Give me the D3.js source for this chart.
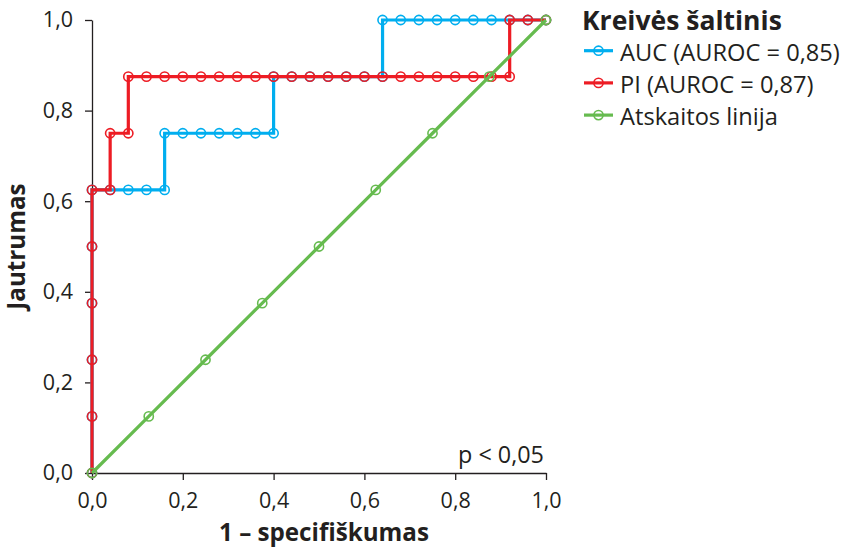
<!DOCTYPE html>
<html>
<head>
<meta charset="utf-8">
<script src="https://cdn.jsdelivr.net/npm/d3@7"></script>
<style>
  body { margin: 0; background: #fff; }
  svg { display: block; font-family: "Open Sans", "Lato", sans-serif; }
</style>
</head>
<body>
<svg id="chart" width="845" height="550"></svg>
<script>
// ROC curve coordinates: [1 - specificity, sensitivity]
const aucPoints = [
  [0, 0], [0, 0.125], [0, 0.25], [0, 0.375], [0, 0.5], [0, 0.625],
  [0.04, 0.625], [0.08, 0.625], [0.12, 0.625], [0.16, 0.625],
  [0.16, 0.75], [0.20, 0.75], [0.24, 0.75], [0.28, 0.75], [0.32, 0.75], [0.36, 0.75], [0.40, 0.75],
  [0.40, 0.875], [0.44, 0.875], [0.48, 0.875], [0.52, 0.875], [0.56, 0.875], [0.60, 0.875], [0.64, 0.875],
  [0.64, 1], [0.68, 1], [0.72, 1], [0.76, 1], [0.80, 1], [0.84, 1], [0.88, 1], [0.92, 1], [0.96, 1], [1, 1]
];
const piPoints = [
  [0, 0], [0, 0.125], [0, 0.25], [0, 0.375], [0, 0.5], [0, 0.625],
  [0.04, 0.625], [0.04, 0.75], [0.08, 0.75], [0.08, 0.875],
  [0.12, 0.875], [0.16, 0.875], [0.20, 0.875], [0.24, 0.875], [0.28, 0.875], [0.32, 0.875],
  [0.36, 0.875], [0.40, 0.875], [0.44, 0.875], [0.48, 0.875], [0.52, 0.875], [0.56, 0.875],
  [0.60, 0.875], [0.64, 0.875], [0.68, 0.875], [0.72, 0.875], [0.76, 0.875], [0.80, 0.875],
  [0.84, 0.875], [0.88, 0.875], [0.92, 0.875],
  [0.92, 1], [0.96, 1], [1, 1]
];
const refPoints = [
  [0, 0], [0.125, 0.125], [0.25, 0.25], [0.375, 0.375], [0.5, 0.5],
  [0.625, 0.625], [0.75, 0.75], [0.875, 0.875], [1, 1]
];
const tickValues = [0, 0.2, 0.4, 0.6, 0.8, 1.0];
const seriesNames = ["AUC (AUROC = 0,85)", "PI (AUROC = 0,87)", "Atskaitos linija"];
const seriesColors = ["#00aeef", "#ed1c24", "#66bb4f"];
const legendTitle = "Kreivės šaltinis";
const xTitle = "1 – specifiškumas";
const yTitle = "Jautrumas";
const pNote = "p < 0,05";

const ink = "#231f20";
const svg = d3.select("#chart");
const x = d3.scaleLinear().domain([0, 1]).range([92, 546]);
const y = d3.scaleLinear().domain([0, 1]).range([473, 20]);
const fmt = d => d3.format(".1f")(d).replace(".", ",");

// Scale a text's font size so that it spans the given width
function fitWidth(sel, width) {
  const fs = parseFloat(sel.attr("font-size"));
  const w = sel.node().getComputedTextLength();
  const size = fs * width / w;
  sel.attr("font-size", size);
  return size;
}

// Axes
const xAxis = svg.append("g").attr("transform", `translate(0,${y(0)})`)
  .call(d3.axisBottom(x).tickValues(tickValues).tickFormat(fmt).tickSize(7).tickPadding(8).tickSizeOuter(0));
const yAxis = svg.append("g").attr("transform", `translate(${x(0)},0)`)
  .call(d3.axisLeft(y).tickValues(tickValues).tickFormat(fmt).tickSize(7).tickPadding(12).tickSizeOuter(0));
[xAxis, yAxis].forEach(g => {
  g.selectAll("path, line").attr("stroke", ink).attr("stroke-width", 1.3);
  g.selectAll("text").attr("font-size", 21.5).attr("fill", ink).attr("font-family", "'Open Sans', sans-serif");
});
xAxis.selectAll("text").attr("dy", "0.95em");

// Axis titles
const xt = svg.append("text").attr("x", 324).attr("y", 541).attr("text-anchor", "middle")
  .attr("font-size", 24).attr("font-weight", "bold").attr("fill", ink).text(xTitle);
const titleSize = fitWidth(xt, 210);
svg.append("text").attr("transform", `translate(25,${y(0.5)}) rotate(-90)`).attr("text-anchor", "middle")
  .attr("font-size", titleSize).attr("font-weight", "bold").attr("fill", ink).text(yTitle);

const pt = svg.append("text").attr("x", 544).attr("y", 463).attr("text-anchor", "end")
  .attr("font-size", 22).attr("fill", ink).text(pNote);
fitWidth(pt, 86);

// Series: blue first, red above it, reference line on top
const line = d3.line().x(d => x(d[0])).y(d => y(d[1]));
const series = [aucPoints, piPoints, refPoints];
series.forEach((pts, i) => {
  const g = svg.append("g");
  g.append("path").datum(pts).attr("d", line).attr("fill", "none")
    .attr("stroke", seriesColors[i]).attr("stroke-width", 3.2).attr("stroke-linejoin", "miter");
  g.selectAll("circle").data(pts).join("circle")
    .attr("cx", d => x(d[0])).attr("cy", d => y(d[1])).attr("r", 4.6)
    .attr("fill", "none").attr("stroke", seriesColors[i]).attr("stroke-width", 1.6);
});

// Legend
const lg = svg.append("g");
const lt = lg.append("text").attr("x", 582).attr("y", 30).attr("font-size", 24).attr("font-weight", "bold")
  .attr("fill", ink).text(legendTitle);
fitWidth(lt, 200);
let itemSize = null;
seriesNames.forEach((name, i) => {
  const cy = 50.7 + i * 32.2;
  lg.append("line").attr("x1", 584).attr("x2", 613).attr("y1", cy).attr("y2", cy)
    .attr("stroke", seriesColors[i]).attr("stroke-width", 3.2);
  lg.append("circle").attr("cx", 598.5).attr("cy", cy).attr("r", 4.6)
    .attr("fill", "none").attr("stroke", seriesColors[i]).attr("stroke-width", 1.6);
  const t = lg.append("text").attr("x", 620).attr("y", cy + 10).attr("font-size", itemSize || 23)
    .attr("fill", ink).text(name);
  if (i === 0) itemSize = fitWidth(t, 220);
});
</script>
</body>
</html>
